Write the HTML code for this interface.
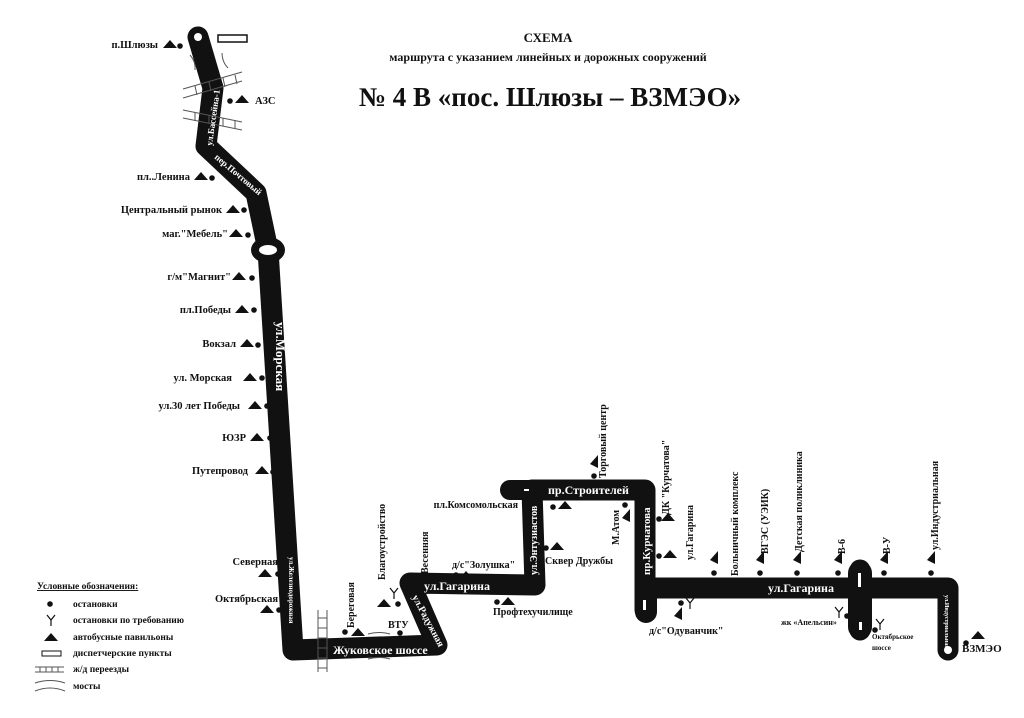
<!DOCTYPE html>
<html><head><meta charset="utf-8"><style>
html,body{margin:0;padding:0;background:#fff}
svg{display:block}
text{font-family:"Liberation Serif","DejaVu Serif",serif;font-weight:bold;fill:#111}
.w{fill:#fff}
</style></head><body>
<svg width="1024" height="718" viewBox="0 0 1024 718" xmlns="http://www.w3.org/2000/svg">
<defs>
<path id="t" d="M-7,4 L0,-4 L7,4 Z" fill="#111"/>
<path id="tl" d="M4,-7 L4,6 L-4,2 Z" fill="#111"/>
<circle id="d" r="2.8" fill="#111"/>
<path id="y" d="M-4,-5 L0,0 L4,-5 M0,0 L0,6" stroke="#111" stroke-width="1.2" fill="none"/>
</defs>

<!-- title -->
<text x="548" y="42" font-size="13" text-anchor="middle">СХЕМА</text>
<text x="548" y="61" font-size="12" text-anchor="middle">маршрута с указанием линейных и дорожных сооружений</text>
<text x="550" y="106" font-size="27" text-anchor="middle">№ 4 В «пос. Шлюзы – ВЗМЭО»</text>

<!-- route -->
<g fill="none" stroke="#111" stroke-width="21" stroke-linejoin="round" stroke-linecap="round">
<path d="M198,37 L213,88 L206,146 L256,193 L268,250 L293,650 L437,645 L410,583 L535,585 L532,490 L645,490 L645,610"/>
<path d="M645,588 L948,588 L948,650"/>
<path d="M860,570 L860,630"/>
</g>
<path d="M510,480 L532,480 L532,500 L510,500 A10,10 0 0 1 510,480Z" fill="#111"/>
<path d="M635,590 L635,612 A11,11 0 0 0 657,612 L657,590Z" fill="#111"/>
<rect x="848" y="561" width="24" height="78" rx="12" fill="#111"/>
<rect x="858" y="573" width="3" height="14" fill="#fff"/>
<rect x="859" y="622" width="3" height="8" fill="#fff"/>
<rect x="643" y="600" width="3" height="10" fill="#fff"/>
<rect x="524" y="489" width="5" height="2" fill="#fff"/>
<!-- circles -->
<circle cx="198" cy="37" r="4" fill="#fff"/>
<ellipse cx="268" cy="250" rx="17" ry="13" fill="#111"/>
<ellipse cx="268" cy="250" rx="9" ry="5" fill="#fff"/>
<circle cx="948" cy="650" r="4" fill="#fff"/>
<rect x="218" y="35" width="29" height="7" fill="#fff" stroke="#111" stroke-width="1.5"/>

<!-- bridges/rail -->
<g stroke="#555" stroke-width="1" fill="none">
<path d="M190,55 Q196,62 195,70 M222,53 Q222,62 228,68"/>
<path d="M183,89 L242,72 M183,98 L242,81 M195,86 L197,95 M209,82 L211,91 M223,78 L225,87 M235,75 L237,84"/>
<path d="M183,110 L242,122 M183,118 L242,130 M195,112 L195,120 M209,115 L209,123 M223,118 L223,126 M235,120 L235,128"/>
<path d="M318,610 L318,672 M327,610 L327,672 M318,618 L327,618 M318,628 L327,628 M318,638 L327,638 M318,648 L327,648 M318,658 L327,658 M318,668 L327,668"/>
<path d="M368,634 Q379,631 390,634 M368,659 Q379,656 390,659"/>
</g>

<!-- route labels -->
<g>
<text class="w" font-size="13" transform="translate(276,322) rotate(90)">ул.Морская</text>
<text class="w" font-size="9" transform="translate(212,146) rotate(-82)">ул.Бассейна-1</text>
<text class="w" font-size="9" transform="translate(214,158) rotate(40)">пер.Почтовый</text>
<text class="w" font-size="7" transform="translate(289,557) rotate(90)">ул.Железнодорожная</text>
<text class="w" font-size="12" x="333" y="654">Жуковское шоссе</text>
<text class="w" font-size="10" transform="translate(412,597) rotate(62)">ул.Радужная</text>
<text class="w" font-size="12" x="424" y="590">ул.Гагарина</text>
<text class="w" font-size="10" transform="translate(537,575) rotate(-90)">ул.Энтузиастов</text>
<text class="w" font-size="12" x="548" y="494">пр.Строителей</text>
<text class="w" font-size="11" transform="translate(650,575) rotate(-90)">пр.Курчатова</text>
<text class="w" font-size="12" x="768" y="592">ул.Гагарина</text>
<text class="w" font-size="6" transform="translate(945,595) rotate(90)">ул.Индустриальная</text>
</g>

<!-- left stops -->
<g font-size="10.5">
<text x="158" y="48" text-anchor="end">п.Шлюзы</text><use href="#t" x="170" y="44"/><use href="#d" x="180" y="46"/>
<use href="#d" x="230" y="101"/><use href="#t" x="242" y="99"/><text x="255" y="104">АЗС</text>
<text x="190" y="180" text-anchor="end">пл..Ленина</text><use href="#t" x="201" y="176"/><use href="#d" x="212" y="178"/>
<text x="222" y="213" text-anchor="end">Центральный рынок</text><use href="#t" x="233" y="209"/><use href="#d" x="244" y="210"/>
<text x="228" y="237" text-anchor="end">маг."Мебель"</text><use href="#t" x="236" y="233"/><use href="#d" x="248" y="235"/>
<text x="231" y="280" text-anchor="end">г/м"Магнит"</text><use href="#t" x="239" y="276"/><use href="#d" x="252" y="278"/>
<text x="231" y="313" text-anchor="end">пл.Победы</text><use href="#t" x="242" y="309"/><use href="#d" x="254" y="310"/>
<text x="236" y="347" text-anchor="end">Вокзал</text><use href="#t" x="247" y="343"/><use href="#d" x="258" y="345"/>
<text x="232" y="381" text-anchor="end">ул. Морская</text><use href="#t" x="250" y="377"/><use href="#d" x="262" y="378"/>
<text x="240" y="409" text-anchor="end">ул.30 лет Победы</text><use href="#t" x="255" y="405"/><use href="#d" x="267" y="406"/>
<text x="246" y="441" text-anchor="end">ЮЗР</text><use href="#t" x="257" y="437"/><use href="#d" x="270" y="438"/>
<text x="248" y="474" text-anchor="end">Путепровод</text><use href="#t" x="262" y="470"/><use href="#d" x="273" y="472"/>
<text x="278" y="565" text-anchor="end">Северная</text><use href="#t" x="265" y="573"/><use href="#d" x="278" y="574"/>
<text x="278" y="602" text-anchor="end">Октябрьская</text><use href="#t" x="267" y="609"/><use href="#d" x="279" y="610"/>
</g>

<!-- bottom/middle stops -->
<g font-size="10">
<text transform="translate(354,628) rotate(-90)">Береговая</text><use href="#d" x="345" y="632"/><use href="#t" x="358" y="632"/>
<text transform="translate(385,580) rotate(-90)">Благоустройство</text><use href="#t" x="384" y="603"/><use href="#d" x="398" y="604"/><use href="#y" x="394" y="593"/>
<text x="388" y="628">ВТУ</text><use href="#d" x="400" y="633"/>
<text transform="translate(428,574) rotate(-90)">Весенняя</text><use href="#d" x="420" y="581"/><use href="#t" x="432" y="578"/>
<text x="452" y="568">д/с"Золушка"</text><use href="#d" x="456" y="575"/><use href="#t" x="466" y="575"/>
<text x="518" y="508" text-anchor="end">пл.Комсомольская</text>
<text x="493" y="615">Профтехучилище</text><use href="#d" x="497" y="602"/><use href="#t" x="508" y="601"/>
<use href="#d" x="553" y="507"/><use href="#t" x="565" y="505"/>
<text x="545" y="564">Сквер Дружбы</text><use href="#d" x="546" y="548"/><use href="#t" x="557" y="546"/>
<text transform="translate(606,478) rotate(-90)">Торговый центр</text><use href="#tl" x="594" y="462"/><use href="#d" x="594" y="476"/>
<text transform="translate(619,545) rotate(-90)">М.Атом</text><use href="#d" x="625" y="505"/><use href="#tl" x="626" y="516"/>
<text transform="translate(669,515) rotate(-90)">ДК "Курчатова"</text><use href="#d" x="659" y="519"/><use href="#t" x="668" y="517"/>
<text transform="translate(693,560) rotate(-90)">ул.Гагарина</text><use href="#d" x="659" y="556"/><use href="#t" x="670" y="554"/>
<text x="649" y="634">д/с"Одуванчик"</text><use href="#d" x="681" y="603"/><use href="#y" x="690" y="603"/><use href="#tl" x="678" y="614"/>
<text transform="translate(738,576) rotate(-90)">Больничный комплекс</text><use href="#tl" x="714" y="558"/><use href="#d" x="714" y="573"/>
<text transform="translate(768,554) rotate(-90)">ВГЭС (УЭИК)</text><use href="#tl" x="760" y="558"/><use href="#d" x="760" y="573"/>
<text transform="translate(802,552) rotate(-90)">Детская поликлиника</text><use href="#tl" x="797" y="558"/><use href="#d" x="797" y="573"/>
<text transform="translate(845,554) rotate(-90)">В-6</text><use href="#tl" x="838" y="558"/><use href="#d" x="838" y="573"/>
<text transform="translate(890,554) rotate(-90)">В-У</text><use href="#tl" x="884" y="558"/><use href="#d" x="884" y="573"/>
<text transform="translate(938,550) rotate(-90)">ул.Индустриальная</text><use href="#tl" x="931" y="558"/><use href="#d" x="931" y="573"/>
<text x="781" y="625" font-size="8">жк «Апельсин»</text><use href="#y" x="839" y="612"/><use href="#d" x="847" y="616"/>
<text x="872" y="639" font-size="7">Октябрьское</text><text x="872" y="650" font-size="7">шоссе</text><use href="#d" x="875" y="630"/><use href="#y" x="880" y="624"/>
<text x="962" y="652" font-size="11">ВЗМЭО</text><use href="#d" x="966" y="643"/><use href="#t" x="978" y="635"/>
</g>

<!-- legend -->
<g font-size="9.5">
<text x="37" y="589" text-decoration="underline">Условные обозначения:</text>
<use href="#d" x="50" y="604"/><text x="73" y="607">остановки</text>
<use href="#y" x="51" y="620"/><text x="73" y="623">остановки по требованию</text>
<use href="#t" x="51" y="637"/><text x="73" y="640">автобусные павильоны</text>
<rect x="42" y="651" width="19" height="5" fill="#fff" stroke="#111" stroke-width="1"/><text x="73" y="656">диспетчерские пункты</text>
<g stroke="#555" stroke-width="1" fill="none"><path d="M35,667 L64,667 M35,672 L64,672 M40,667 L40,672 M46,667 L46,672 M52,667 L52,672 M58,667 L58,672"/>
<path d="M35,683 Q50,678 65,683 M35,691 Q50,685 65,691"/></g>
<text x="73" y="672">ж/д переезды</text>
<text x="73" y="689">мосты</text>
</g>
</svg>
</body></html>
